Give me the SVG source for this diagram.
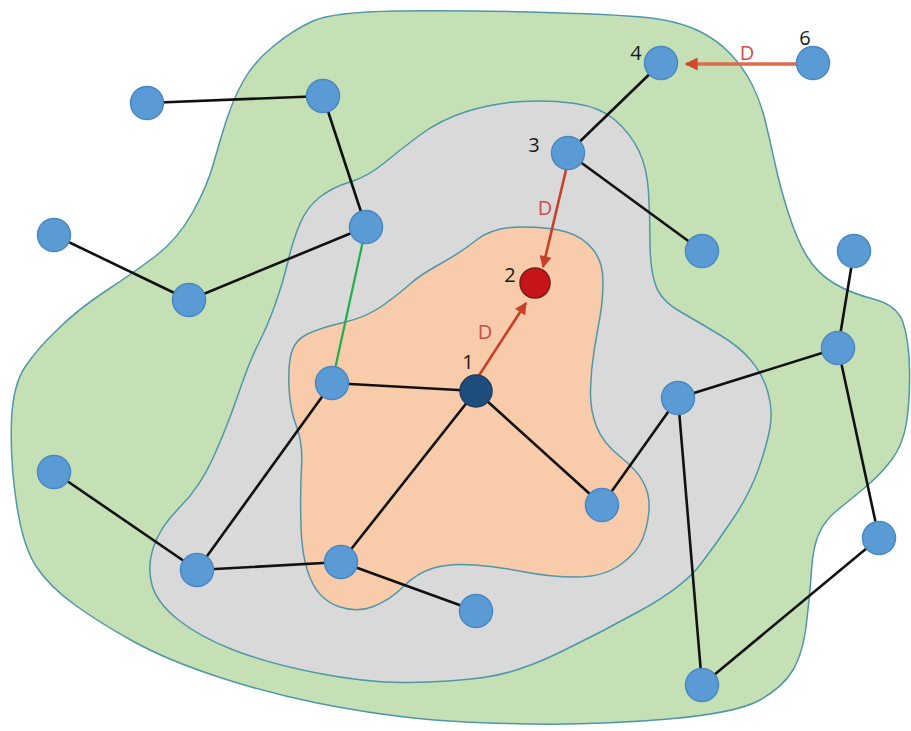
<svg xmlns="http://www.w3.org/2000/svg" width="911" height="731" viewBox="0 0 911 731">
<style>
.region{stroke:#4f97a8;stroke-width:1.5}
.edge{stroke:#111;stroke-width:2.6;fill:none;stroke-linecap:round}
.green{stroke:#1fae4e;stroke-width:2.2}
.arrow{stroke:#c9402a;stroke-width:2.6;fill:none}
.arrow2{stroke:#e06a4c;stroke-width:3.6;fill:none}
.node{fill:#5b9bd5;stroke:#4b88c2;stroke-width:1.5}
.lbl{font-family:"Open Sans","Liberation Sans",sans-serif;font-size:20px;fill:#1a1a1a;text-anchor:middle}
.d{font-family:"Open Sans","Liberation Sans",sans-serif;font-size:20px;fill:#c9504a;text-anchor:middle}
</style>
<defs>
<marker id="ah" viewBox="0 0 10 10" refX="9" refY="5" markerWidth="13" markerHeight="12" markerUnits="userSpaceOnUse" orient="auto">
<path d="M0,0 L10,5 L0,10 z" fill="#c9402a"/>
</marker>
<marker id="ah2" viewBox="0 0 10 10" refX="9" refY="5" markerWidth="13" markerHeight="13" markerUnits="userSpaceOnUse" orient="auto">
<path d="M0,0 L10,5 L0,10 z" fill="#d04a30"/>
</marker>
</defs>
<rect width="911" height="731" fill="#ffffff"/>
<g id="regions">
<path id="outer-zone" class="region" fill="#c6e0b5" d="M313,21 Q333,12 396.5,11 Q460,10 546.5,12.5 Q633,15 658,19 Q683,23 700,31.5 Q717,40 730,53.5 Q743,67 751.5,83.5 Q760,100 765,120 Q770,140 775,163.5 Q780,187 788.5,213.5 Q797,240 807,256.5 Q817,273 833.5,283 Q850,293 873.5,299 Q897,305 903,322.5 Q909,340 909.5,370 Q910,400 906.5,422.5 Q903,445 891.5,460 Q880,475 865,487.5 Q850,500 837.5,510 Q825,520 819,533.5 Q813,547 811.5,570 Q810,593 806.5,623 Q803,653 793,670 Q783,687 760,700 Q737,713 668.5,719 Q600,725 530,724 Q460,723 413.5,718 Q367,713 317,703 Q267,693 217,676.5 Q167,660 133.5,641.5 Q100,623 75,605 Q50,587 36.5,567 Q23,547 16.5,503.5 Q10,460 11.5,420 Q13,385 25,367 Q38,348 57,330 Q77,310 105,291.5 Q133,273 155,256.5 Q177,240 192,213.5 Q207,187 213.5,163.5 Q220,140 226.5,120 Q233,100 243,81.5 Q253,63 273,46.5 Q293,30 313,21 Z"/>
<path id="middle-zone" class="region" fill="#d9d9d9" d="M466.5,111.5 Q493,103 521.5,101.5 Q550,100 575,103.5 Q600,107 615,120 Q630,133 638.5,150 Q647,167 648.5,192 Q650,217 650,242 Q650,267 655,283.5 Q660,300 680,311.5 Q700,323 720,335 Q740,347 751.5,361 Q763,375 768,392.5 Q773,410 770,427.5 Q767,445 758.5,469 Q750,493 733.5,518 Q717,543 700,565 Q683,587 641.5,610 Q600,633 558.5,653 Q517,673 483.5,677.5 Q450,682 408.5,682.5 Q367,683 317,673 Q267,663 233.5,650 Q200,637 178.5,620 Q157,603 152,585 Q147,567 153.5,547 Q160,527 180,507 Q200,487 213.5,457 Q227,427 238.5,393.5 Q250,360 258.5,343.5 Q267,327 275,305 Q283,283 288,261.5 Q293,240 300,223.5 Q307,207 320,197 Q333,187 350,182 Q367,177 383.5,163.5 Q400,150 420,135 Q440,120 466.5,111.5 Z"/>
<path id="inner-zone" class="region" fill="#f8cbab" d="M476.5,240 Q493,227 521.5,227 Q550,227 566.5,232 Q583,237 593,249.5 Q603,262 603,281 Q603,300 600,316.5 Q597,333 594,351.5 Q591,370 590.5,390 Q590,410 596.5,426.5 Q603,443 620,456.5 Q637,470 643.5,482.5 Q650,495 649,510 Q648,525 642.5,539 Q637,553 620,565 Q603,577 576.5,577 Q550,577 525,572 Q500,567 475,565 Q450,563 433.5,568 Q417,573 403.5,586.5 Q390,600 373.5,606.5 Q357,613 338.5,606.5 Q320,600 311,580 Q302,560 301,526.5 Q300,493 301.5,468 Q303,443 296.5,426.5 Q290,410 289,387.5 Q288,365 291.5,352.5 Q295,340 307.5,334 Q320,328 343.5,322.5 Q367,317 383.5,305 Q400,293 410,284 Q420,275 440,264 Q460,253 476.5,240 Z"/>
</g>
<g id="connectors">
<line class="edge" x1="147" y1="103" x2="323" y2="96"/>
<line class="edge" x1="323" y1="96" x2="366" y2="227"/>
<line class="edge" x1="366" y1="227" x2="189" y2="300"/>
<line class="edge" x1="189" y1="300" x2="54" y2="235"/>
<line class="green" x1="366" y1="227" x2="332" y2="383"/>
<line class="edge" x1="332" y1="383" x2="476" y2="391"/>
<line class="edge" x1="332" y1="383" x2="197" y2="570"/>
<line class="edge" x1="476" y1="391" x2="341" y2="562"/>
<line class="edge" x1="476" y1="391" x2="602" y2="505"/>
<line class="edge" x1="602" y1="505" x2="678" y2="398"/>
<line class="edge" x1="678" y1="398" x2="838" y2="348"/>
<line class="edge" x1="678" y1="398" x2="702" y2="685"/>
<line class="edge" x1="838" y1="348" x2="854" y2="251"/>
<line class="edge" x1="838" y1="348" x2="879" y2="538"/>
<line class="edge" x1="879" y1="538" x2="702" y2="685"/>
<line class="edge" x1="197" y1="570" x2="54" y2="472"/>
<line class="edge" x1="197" y1="570" x2="341" y2="562"/>
<line class="edge" x1="341" y1="562" x2="476" y2="611"/>
<line class="edge" x1="568" y1="153" x2="661" y2="63"/>
<line class="edge" x1="568" y1="153" x2="702" y2="251"/>
<line class="arrow" x1="478" y1="377" x2="526" y2="303" marker-end="url(#ah)"/>
<line class="arrow" x1="566" y1="170" x2="543" y2="267" marker-end="url(#ah)"/>
<line class="arrow2" x1="797" y1="64" x2="686" y2="64" marker-end="url(#ah2)"/>
</g>
<g id="n-a"><circle class="node" cx="147" cy="103" r="16.5"/></g>
<g id="n-b"><circle class="node" cx="323" cy="96" r="16.5"/></g>
<g id="n-c"><circle class="node" cx="366" cy="227" r="16.5"/></g>
<g id="n-d"><circle class="node" cx="54" cy="235" r="16.5"/></g>
<g id="n-e"><circle class="node" cx="189" cy="300" r="16.5"/></g>
<g id="n-f"><circle class="node" cx="332" cy="383" r="16.5"/></g>
<g id="n-1"><circle cx="476" cy="391" r="16" fill="#1f4e7c" stroke="#173e63" stroke-width="1.5"/><text class="lbl" x="468" y="369">1</text></g>
<g id="n-2"><circle cx="535" cy="283" r="15" fill="#c8151b" stroke="#7a1a16" stroke-width="1.5"/><text class="lbl" x="510" y="282">2</text></g>
<g id="n-3"><circle class="node" cx="568" cy="153" r="16.5"/><text class="lbl" x="534" y="152">3</text></g>
<g id="n-4"><circle class="node" cx="661" cy="63" r="16.5"/><text class="lbl" x="636" y="60">4</text></g>
<g id="n-6"><circle class="node" cx="813" cy="63" r="16.5"/><text class="lbl" x="805" y="45">6</text></g>
<g id="n-g"><circle class="node" cx="702" cy="251" r="16.5"/></g>
<g id="n-h"><circle class="node" cx="854" cy="251" r="16.5"/></g>
<g id="n-i"><circle class="node" cx="838" cy="348" r="16.5"/></g>
<g id="n-j"><circle class="node" cx="678" cy="398" r="16.5"/></g>
<g id="n-k"><circle class="node" cx="602" cy="505" r="16.5"/></g>
<g id="n-l"><circle class="node" cx="54" cy="472" r="16.5"/></g>
<g id="n-m"><circle class="node" cx="197" cy="570" r="16.5"/></g>
<g id="n-o"><circle class="node" cx="341" cy="562" r="16.5"/></g>
<g id="n-p"><circle class="node" cx="476" cy="611" r="16.5"/></g>
<g id="n-q"><circle class="node" cx="879" cy="538" r="16.5"/></g>
<g id="n-r"><circle class="node" cx="702" cy="685" r="16.5"/></g>
<g id="labels">
<text class="d" x="485" y="339">D</text>
<text class="d" x="545" y="215">D</text>
<text class="d" x="747" y="60">D</text>
</g>
</svg>
